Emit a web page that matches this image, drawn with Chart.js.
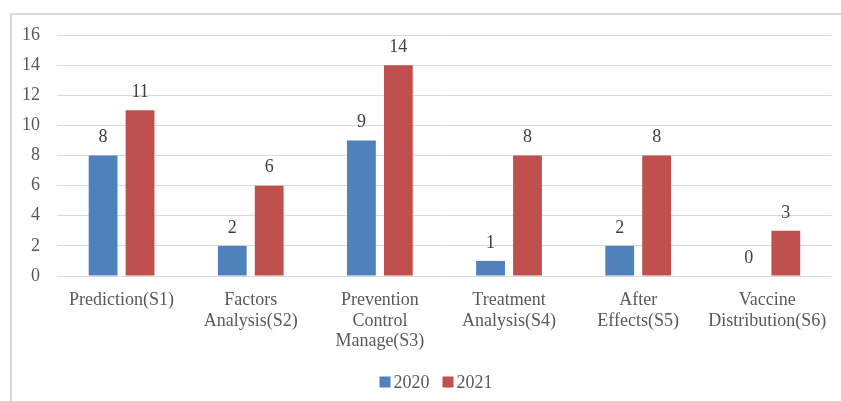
<!DOCTYPE html>
<html>
<head>
<meta charset="utf-8">
<script src="https://cdn.jsdelivr.net/npm/chart.js@4/dist/chart.umd.min.js"></script>
<style>
  html, body { margin: 0; padding: 0; background: #fff; }
  body { width: 841px; height: 401px; overflow: hidden; position: relative; }
  #frame { position: absolute; left: 10px; top: 13px; width: 900px; height: 500px;
           border-left: 2px solid #d9d9d9; border-top: 2px solid #d9d9d9; box-sizing: border-box; }
  #wrap { position: absolute; left: 0; top: 0; width: 841px; height: 401px; }
</style>
</head>
<body>
<div id="frame"></div>
<div id="wrap"><canvas id="c" width="841" height="401"></canvas></div>
<script>
const categories = [
  ['Prediction(S1)'],
  ['Factors', 'Analysis(S2)'],
  ['Prevention', 'Control', 'Manage(S3)'],
  ['Treatment', 'Analysis(S4)'],
  ['After', 'Effects(S5)'],
  ['Vaccine', 'Distribution(S6)']
];
const seriesNames = ['2020', '2021'];
const values2020 = [8, 2, 9, 1, 2, 0];
const values2021 = [11, 6, 14, 8, 8, 3];
const yTicks = [0, 2, 4, 6, 8, 10, 12, 14, 16];

const FONT = "'Liberation Serif', 'Times New Roman', serif";
const TEXT = '#595959';

// Writes each bar's value just above it
const valueLabels = {
  id: 'valueLabels',
  afterDatasetsDraw(chart) {
    const ctx = chart.ctx;
    ctx.save();
    ctx.font = '18px ' + FONT;
    ctx.fillStyle = '#404040';
    ctx.textAlign = 'center';
    ctx.textBaseline = 'middle';
    chart.data.datasets.forEach((ds, i) => {
      chart.getDatasetMeta(i).data.forEach((bar, j) => {
        ctx.fillText(String(ds.data[j]), bar.x, bar.y - 18);
      });
    });
    ctx.restore();
  }
};

// Compact legend below the axis: small square, tight gap, series name
const compactLegend = {
  id: 'compactLegend',
  afterDraw(chart) {
    const ctx = chart.ctx;
    ctx.save();
    ctx.font = '18px ' + FONT;
    ctx.textBaseline = 'middle';
    const box = 11, gap = 3, spacing = 13, cy = 382, centerX = 436;
    const items = chart.data.datasets.map(ds => ({
      text: ds.label, color: ds.backgroundColor, w: box + gap + ctx.measureText(ds.label).width
    }));
    const total = items.reduce((s, it) => s + it.w, 0) + spacing * (items.length - 1);
    let x = centerX - total / 2;
    items.forEach(it => {
      ctx.fillStyle = it.color;
      ctx.fillRect(x, cy - box / 2, box, box);
      ctx.fillStyle = TEXT;
      ctx.textAlign = 'left';
      ctx.fillText(it.text, x + box + gap, cy + 1);
      x += it.w + spacing;
    });
    ctx.restore();
  }
};

new Chart(document.getElementById('c'), {
  type: 'bar',
  data: {
    labels: categories,
    datasets: [
      { label: seriesNames[0], data: values2020, backgroundColor: '#4f81bd' },
      { label: seriesNames[1], data: values2021, backgroundColor: '#c0504d' }
    ]
  },
  options: {
    responsive: false,
    animation: false,
    events: [],
    categoryPercentage: 0.572,
    barPercentage: 0.78,
    layout: { padding: { left: 0, right: 8, top: 35, bottom: 41 } },
    scales: {
      x: {
        grid: { display: false, drawTicks: false },
        border: { display: false },
        ticks: { color: TEXT, font: { family: FONT, size: 18, lineHeight: 1.14 }, padding: 14, maxRotation: 0, autoSkip: false },
        afterFit(axis) { axis.height = 84; }
      },
      y: {
        min: 0, max: 16,
        afterBuildTicks(axis) { axis.ticks = yTicks.map(v => ({ value: v })); },
        grid: { color: '#d9d9d9', lineWidth: 1, drawTicks: false },
        border: { display: false },
        ticks: { color: TEXT, font: { family: FONT, size: 18 }, padding: 17 },
        afterFit(axis) { axis.width = 57; }
      }
    },
    plugins: {
      legend: { display: false },
      tooltip: { enabled: false }
    }
  },
  plugins: [valueLabels, compactLegend]
});
</script>
</body>
</html>
